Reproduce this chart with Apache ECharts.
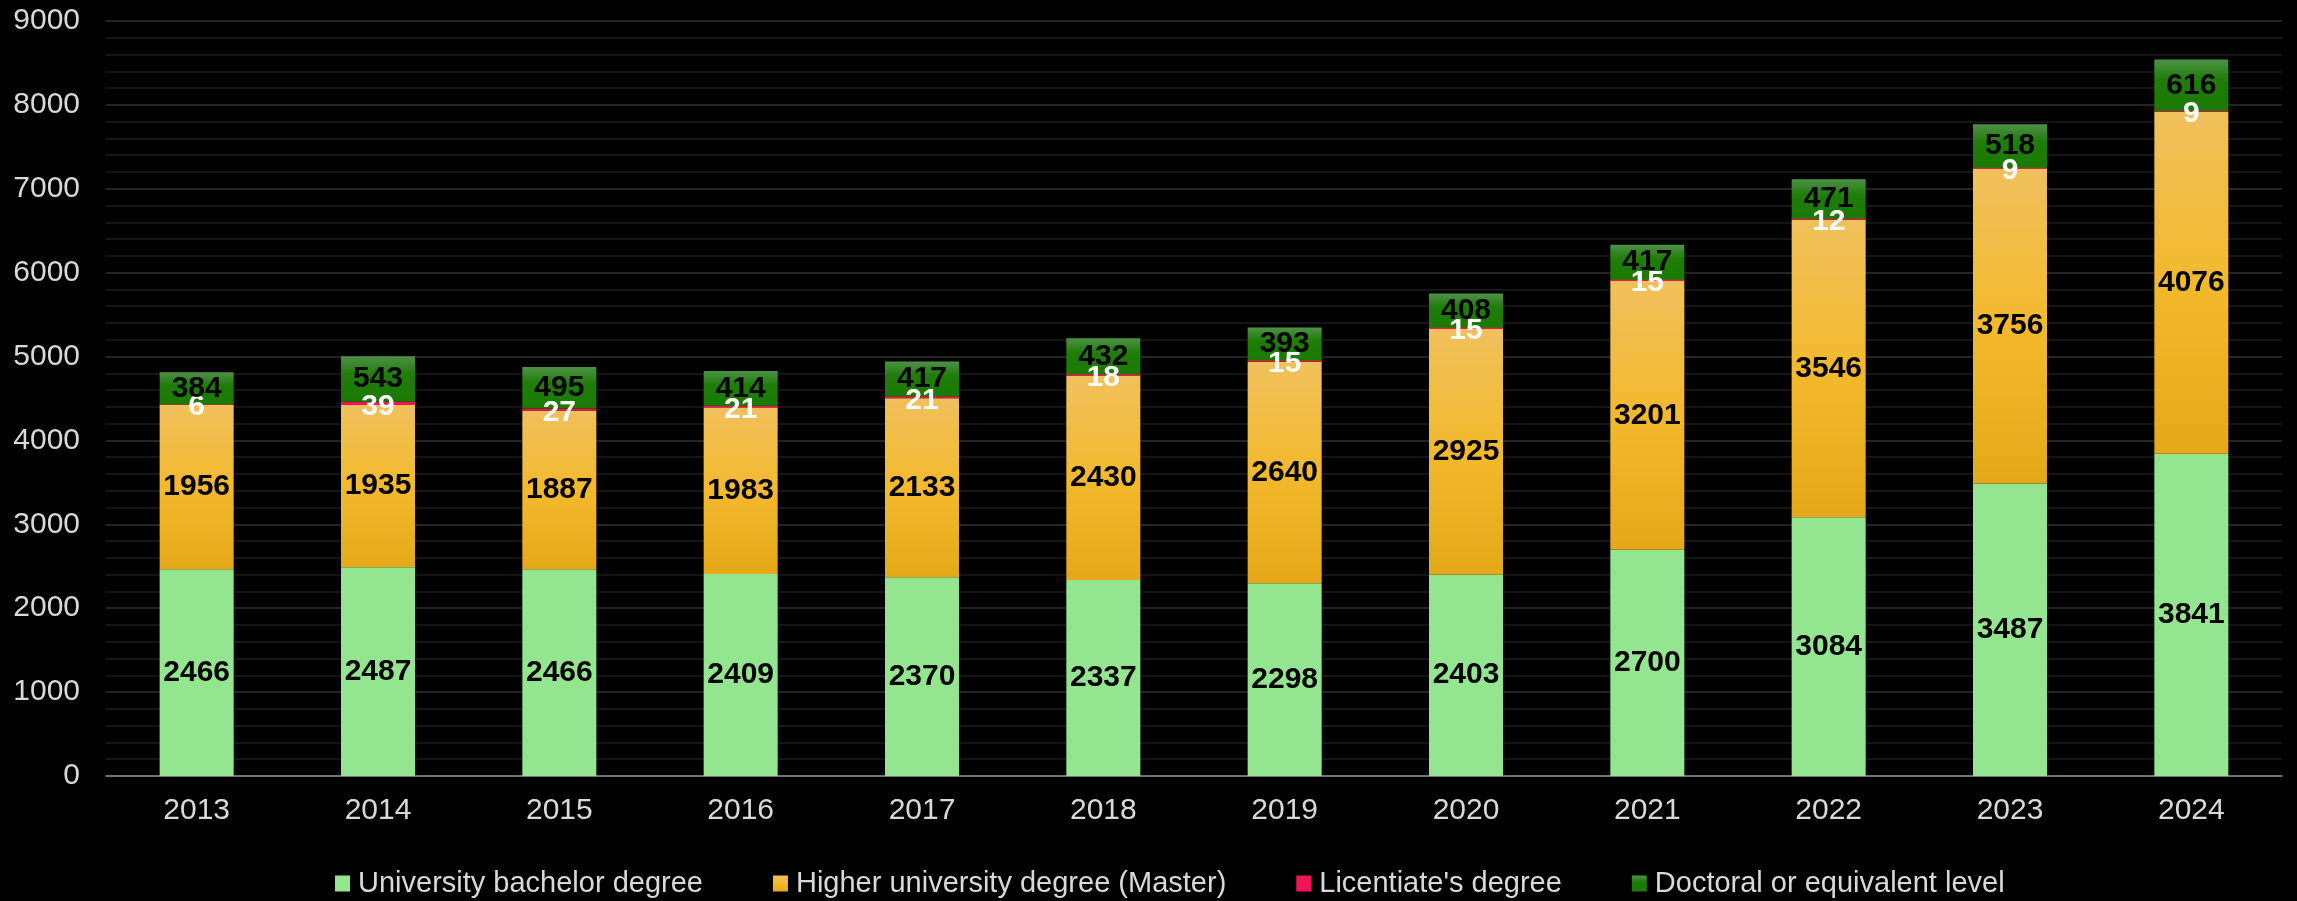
<!DOCTYPE html>
<html>
<head>
<meta charset="utf-8">
<script src="https://cdn.jsdelivr.net/npm/echarts@6/dist/echarts.min.js"></script>
<style>
  html, body { margin: 0; padding: 0; background: #000; }
  #chart { width: 2297px; height: 901px; }
</style>
</head>
<body>
<div id="chart"></div>
<script>
var years = ['2013', '2014', '2015', '2016', '2017', '2018', '2019', '2020', '2021', '2022', '2023', '2024'];
var bachelor = [2466, 2487, 2466, 2409, 2370, 2337, 2298, 2403, 2700, 3084, 3487, 3841];
var master = [1956, 1935, 1887, 1983, 2133, 2430, 2640, 2925, 3201, 3546, 3756, 4076];
var licentiate = [6, 39, 27, 21, 21, 18, 15, 15, 15, 12, 9, 9];
var doctoral = [384, 543, 495, 414, 417, 432, 393, 408, 417, 471, 518, 616];

var myChart = echarts.init(document.getElementById('chart'));

function vgrad(stops) {
    return new echarts.graphic.LinearGradient(0, 0, 0, 1, stops.map(function (s) {
        return {offset: s[0], color: s[1]};
    }));
}

var labelFont = 'Liberation Sans, Arial, sans-serif';

var option = {
    backgroundColor: '#000',
    animation: false,
    grid: {
        left: 106,
        right: 15,
        top: 21,
        bottom: 125
    },
    legend: {
        top: 864,
        left: 330,
        icon: 'rect',
        itemWidth: 15,
        itemHeight: 16,
        itemGap: 70,
        textStyle: {color: '#d9d9d9', fontSize: 29, fontFamily: labelFont, padding: [0, 0, 0, 3]},
        data: ['University bachelor degree', 'Higher university degree (Master)', "Licentiate's degree", 'Doctoral or equivalent level']
    },
    xAxis: {
        type: 'category',
        data: years,
        axisTick: {show: false},
        axisLine: {lineStyle: {color: '#8c8c8c', width: 1.5}},
        axisLabel: {color: '#d9d9d9', fontSize: 30, fontFamily: labelFont, margin: 20}
    },
    yAxis: {
        type: 'value',
        min: 0,
        max: 9000,
        interval: 1000,
        axisLabel: {
            color: '#d9d9d9', fontSize: 30, fontFamily: labelFont, margin: 26,
            formatter: function (v) { return String(v); }
        },
        splitLine: {lineStyle: {color: '#303030', width: 1.5}},
        minorTick: {show: false, splitNumber: 5},
        minorSplitLine: {show: true, lineStyle: {color: '#1c1c1c', width: 1.5}}
    },
    series: [
        {
            name: 'University bachelor degree',
            type: 'bar',
            stack: 'all',
            barWidth: 74,
            data: bachelor,
            itemStyle: {color: '#93e58f'},
            label: {show: true, position: 'inside', color: '#000', fontWeight: 'bold', fontSize: 30, fontFamily: labelFont}
        },
        {
            name: 'Higher university degree (Master)',
            type: 'bar',
            stack: 'all',
            data: master,
            itemStyle: {color: vgrad([[0, '#f0c05c'], [0.5, '#f3b92d'], [1, '#e5a819']])},
            label: {show: true, position: 'inside', color: '#000', fontWeight: 'bold', fontSize: 30, fontFamily: labelFont}
        },
        {
            name: "Licentiate's degree",
            type: 'bar',
            stack: 'all',
            data: licentiate,
            barMinHeight: 2,
            itemStyle: {color: '#f01456'},
            label: {show: true, position: 'inside', offset: [0, 3], color: '#fff', fontWeight: 'bold', fontSize: 30, fontFamily: labelFont}
        },
        {
            name: 'Doctoral or equivalent level',
            type: 'bar',
            stack: 'all',
            data: doctoral,
            itemStyle: {color: vgrad([[0, '#4e9147'], [0.4, '#1f7d08'], [1, '#1a7a00']])},
            label: {show: true, position: 'inside', color: '#000', fontWeight: 'bold', fontSize: 30, fontFamily: labelFont}
        }
    ]
};

myChart.setOption(option);
</script>
</body>
</html>
